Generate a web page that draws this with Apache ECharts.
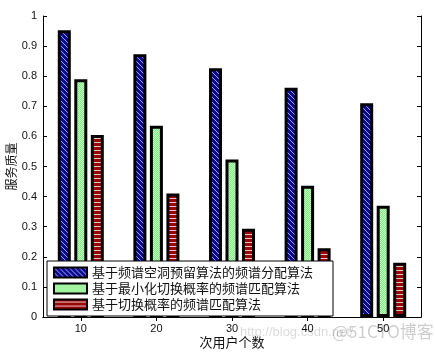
<!DOCTYPE html>
<html>
<head>
<meta charset="utf-8">
<script src="https://cdn.jsdelivr.net/npm/echarts@6/dist/echarts.min.js"></script>
<style>
  html, body { margin: 0; padding: 0; background: #fff; }
  #chart { width: 435px; height: 353px; }
</style>
</head>
<body>
<div id="chart"></div>
<script>
const userCounts = ["10", "20", "30", "40", "50"];
const seriesNames = [
  "基于频谱空洞预留算法的频谱分配算法",
  "基于最小化切换概率的频谱匹配算法",
  "基于切换概率的频谱匹配算法",
];
const holeReserve = [0.953, 0.873, 0.826, 0.762, 0.71];
const minSwitch = [0.79, 0.635, 0.523, 0.436, 0.37];
const switchProb = [0.605, 0.41, 0.293, 0.228, 0.18];

const FONT = "'Liberation Sans', Arial, sans-serif";
const CJK = "'Noto Sans CJK SC', sans-serif";

// hatch fills, drawn once on small canvases
function pattern(size, draw) {
  const c = document.createElement("canvas");
  c.width = size;
  c.height = size;
  draw(c.getContext("2d"), size);
  return { image: c, repeat: "repeat" };
}

const blueFill = pattern(5, (g, s) => {
  g.fillStyle = "#0c0c8c";
  g.fillRect(0, 0, s, s);
  g.strokeStyle = "#a0a0ff";
  g.lineWidth = 1;
  for (let k = -s; k <= s; k += s) {
    g.beginPath();
    g.moveTo(k, 0);
    g.lineTo(k + s, s);
    g.stroke();
  }
});

const greenFill = pattern(2, (g) => {
  g.fillStyle = "#7fea7f";
  g.fillRect(0, 0, 2, 2);
  g.fillStyle = "#c4ffc4";
  g.fillRect(0, 0, 1, 1);
  g.fillRect(1, 1, 1, 1);
});

const redFill = pattern(4, (g, s) => {
  g.fillStyle = "#960808";
  g.fillRect(0, 0, s, s);
  g.fillStyle = "#f0c0c0";
  g.fillRect(0, 2, s, 1);
});

const fills = [blueFill, greenFill, redFill];
const values = [holeReserve, minSwitch, switchProb];

const chart = echarts.init(document.getElementById("chart"));

const axisLine = { show: true, lineStyle: { color: "#000", width: 1 } };
const tick = { show: true, inside: true, length: 4, lineStyle: { color: "#000" } };

chart.setOption({
  animation: false,
  backgroundColor: "#fff",
  grid: { left: 43, top: 16, right: 14, bottom: 36, outerBoundsMode: "none", containLabel: false },
  legend: {
    orient: "vertical",
    left: 47,
    top: 261,
    backgroundColor: "#fff",
    borderColor: "#000",
    borderWidth: 1,
    padding: [5, 20, 5, 6],
    itemGap: 3,
    itemWidth: 33,
    itemHeight: 10,
    icon: "rect",
    data: seriesNames,
    textStyle: { fontFamily: CJK, fontSize: 13, color: "#111" },
  },
  xAxis: [
    {
      type: "category",
      data: userCounts,
      name: "次用户个数",
      nameLocation: "middle",
      nameGap: 19,
      nameMoveOverlap: false,
      nameTextStyle: { fontFamily: CJK, fontSize: 13, color: "#111" },
      axisLine: axisLine,
      axisTick: Object.assign({ alignWithLabel: true }, tick),
      axisLabel: { fontFamily: FONT, fontSize: 11, color: "#111", margin: 6 },
      splitLine: { show: false },
    },
    {
      type: "category",
      data: userCounts,
      position: "top",
      axisLine: axisLine,
      axisTick: Object.assign({ alignWithLabel: true }, tick),
      axisLabel: { show: false },
    },
  ],
  yAxis: [
    {
      type: "value",
      min: 0,
      max: 1,
      interval: 0.1,
      name: "服务质量",
      nameLocation: "middle",
      nameGap: 26,
      nameMoveOverlap: false,
      nameTextStyle: { fontFamily: CJK, fontSize: 12, color: "#111" },
      axisLine: axisLine,
      axisTick: tick,
      axisLabel: { fontFamily: FONT, fontSize: 11, color: "#111", margin: 6 },
      splitLine: { show: false },
    },
    {
      type: "value",
      min: 0,
      max: 1,
      interval: 0.1,
      position: "right",
      axisLine: axisLine,
      axisTick: tick,
      axisLabel: { show: false },
      splitLine: { show: false },
    },
  ],
  series: seriesNames.map((name, i) => ({
    name,
    type: "bar",
    data: values[i],
    barWidth: 13,
    barGap: "27%",
    itemStyle: { color: fills[i], borderColor: "#000", borderWidth: 3 },
    z: 2,
  })),
  graphic: [
    {
      type: "text",
      left: 240,
      top: 326,
      silent: true,
      style: { text: "http://blog.csdn.net/", font: "13px " + FONT, fill: "rgba(0,0,0,0.15)" },
      z: 100,
    },
    {
      type: "text",
      left: 332,
      top: 323,
      silent: true,
      style: { text: "@51CTO博客", font: "17px " + CJK, fill: "rgba(0,0,0,0.2)" },
      z: 100,
    },
  ],
});

window.addEventListener("resize", () => chart.resize());
</script>
</body>
</html>
